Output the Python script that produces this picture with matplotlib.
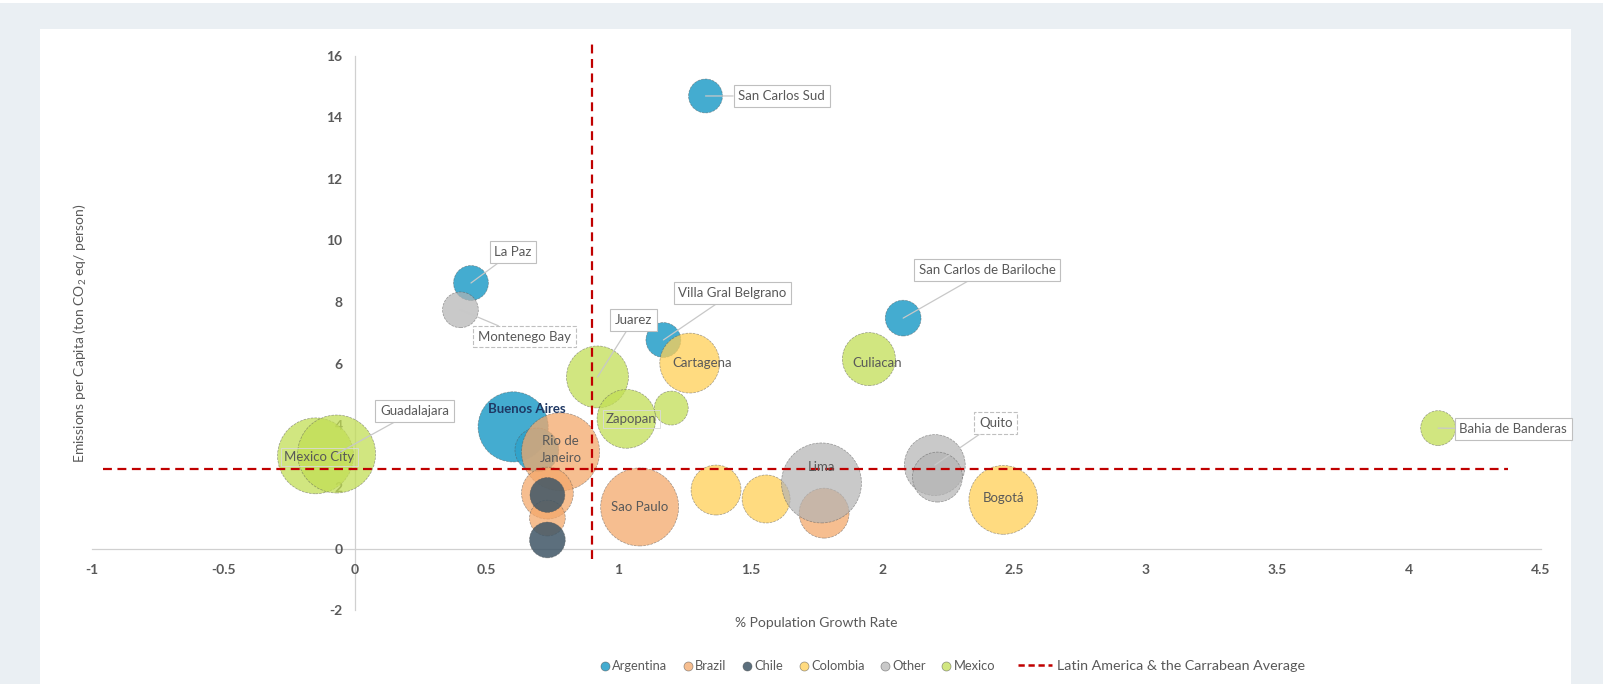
import matplotlib
matplotlib.use("Agg")
import matplotlib.pyplot as plt
from matplotlib.lines import Line2D
from matplotlib.patches import Rectangle
from matplotlib.colors import to_rgba
from matplotlib.ticker import FuncFormatter, MultipleLocator

plt.rcParams['font.family'] = ['Lato', 'DejaVu Sans']

# values
countries = ["Argentina", "Brazil", "Chile", "Colombia", "Other", "Mexico"]

city = ["San Carlos Sud", "La Paz", "Villa Gral Belgrano", "San Carlos de Bariloche", "Buenos Aires", "",
        "Rio de Janeiro", "Sao Paulo", "", "", "",
        "", "",
        "Cartagena", "Bogotá", "", "",
        "Montenego Bay", "Quito", "", "Lima",
        "Mexico City", "Guadalajara", "Juarez", "Zapopan", "", "Culiacan", "Bahia de Banderas"]
country = ["Argentina"] * 6 + ["Brazil"] * 5 + ["Chile"] * 2 + ["Colombia"] * 4 + ["Other"] * 4 + ["Mexico"] * 7
growth = [1.33, 0.44, 1.17, 2.08, 0.60, 0.69,
          0.78, 1.08, 0.73, 0.73, 1.78,
          0.73, 0.73,
          1.27, 2.46, 1.37, 1.56,
          0.40, 2.20, 2.21, 1.77,
          -0.15, -0.07, 0.92, 1.03, 1.20, 1.95, 4.11]
emissions = [14.69, 8.62, 6.77, 7.48, 3.95, 3.20,
             3.14, 1.35, 1.80, 0.99, 1.15,
             1.74, 0.28,
             6.02, 1.58, 1.90, 1.61,
             7.75, 2.71, 2.32, 2.13,
             3.01, 3.07, 5.57, 4.21, 4.56, 6.15, 3.91]
bubble = [18, 19, 19, 20, 77, 30,
          95, 95, 42, 20, 39,
          19, 20,
          56, 74, 39, 36,
          20, 58, 39, 100,
          90, 95, 60, 54, 18, 44, 19]
lac_avg_growth = 0.9
lac_avg_emissions = 2.58

colors = {"Argentina": "#2FA3CB", "Brazil": "#F4A86B", "Chile": "#3F5666",
          "Colombia": "#FFCF55", "Other": "#B3B3B3", "Mexico": "#C2DE55"}
alphas = {"Argentina": 0.9, "Brazil": 0.75, "Chile": 0.85,
          "Colombia": 0.75, "Other": 0.7, "Mexico": 0.75}

# label placement: offset in pixels from bubble centre, and style
label_pos = {
    "San Carlos Sud": (76, 0, "box"),
    "La Paz": (42, 31, "box"),
    "Villa Gral Belgrano": (69, 47, "box"),
    "San Carlos de Bariloche": (84, 48, "box"),
    "Buenos Aires": (14, 18, "bold"),
    "Rio de Janeiro": (0, 2, "plain"),
    "Sao Paulo": (0, 0, "plain"),
    "Cartagena": (12, 0, "plain"),
    "Bogotá": (0, 2, "plain"),
    "Montenego Bay": (64, -27, "dash"),
    "Quito": (61, 42, "dash"),
    "Lima": (0, 16, "plain"),
    "Mexico City": (4, -1, "faint"),
    "Guadalajara": (78, 43, "box"),
    "Juarez": (36, 57, "box"),
    "Zapopan": (5, 0, "faint"),
    "Culiacan": (8, -4, "plain"),
    "Bahia de Banderas": (75, -1, "box"),
}

grey = "#595959"

fig = plt.figure(figsize=(16.14, 6.84), dpi=100, facecolor="white")
fig.patches.append(Rectangle((0, 0), 1603 / 1614, 681 / 684, transform=fig.transFigure,
                             facecolor="#EAEFF3", edgecolor="none", zorder=-10))
fig.patches.append(Rectangle((40 / 1614, 0), 1531 / 1614, 655 / 684, transform=fig.transFigure,
                             facecolor="white", edgecolor="none", zorder=-9))

ax = fig.add_axes([0.0567, 0.1079, 0.8980, 0.8108])
ax.set_facecolor("none")
ax.set_xlim(-1, 4.5)
ax.set_ylim(-2, 16)

# bubbles, series by series
k = 33.18
for c in countries:
    idx = [i for i, cc in enumerate(country) if cc == c]
    xs = [growth[i] for i in idx]
    ys = [emissions[i] for i in idx]
    ss = [bubble[i] * k for i in idx]
    ax.scatter(xs, ys, s=ss, facecolors=[to_rgba(colors[c], alphas[c])] * len(idx),
               edgecolors=[to_rgba("#555555", 0.55)] * len(idx), linewidths=0.5,
               linestyles="--", zorder=2)

# average lines
ax.plot([lac_avg_growth, lac_avg_growth], [-0.35, 16.4], color="#C00000", lw=1.6,
        ls=(0, (4, 2.5)), clip_on=False, zorder=3)
ax.plot([-0.955, 4.375], [lac_avg_emissions, lac_avg_emissions], color="#C00000", lw=1.6,
        ls=(0, (4, 2.5)), clip_on=False, zorder=3)

# labels
for i, name in enumerate(city):
    if name == "":
        continue
    dx, dy, kind = label_pos[name]
    txt = "Rio de\nJaneiro" if name == "Rio de Janeiro" else name
    kw = dict(fontsize=9.5, color=grey, ha="center", va="center", zorder=5,
              textcoords="offset pixels", linespacing=1.5)
    if kind in ("box", "dash"):
        kw["bbox"] = dict(boxstyle="square,pad=0.35", fc="white", ec="#BFBFBF", lw=0.8,
                          ls="-" if kind == "box" else "--")
        kw["arrowprops"] = dict(arrowstyle="-", color="#C8C8C8", lw=0.9, shrinkA=0, shrinkB=0)
    elif kind == "faint":
        kw["bbox"] = dict(boxstyle="square,pad=0.25", fc="none", ec="#DADADA", lw=0.6)
    elif kind == "bold":
        kw["color"] = "#1F3864"
        kw["fontweight"] = "bold"
    ax.annotate(txt, xy=(growth[i], emissions[i]), xytext=(dx, dy), **kw)

# axes crossing at zero
for s in ["top", "right"]:
    ax.spines[s].set_visible(False)
ax.spines["left"].set_position(("data", 0))
ax.spines["bottom"].set_position(("data", 0))
for s in ["left", "bottom"]:
    ax.spines[s].set_color("#D0D0D0")
    ax.spines[s].set_linewidth(0.9)
    ax.spines[s].set_zorder(0.5)
ax.xaxis.set_major_locator(MultipleLocator(0.5))
ax.yaxis.set_major_locator(MultipleLocator(2))
ax.xaxis.set_major_formatter(FuncFormatter(lambda v, p: f"{v:g}"))
ax.yaxis.set_major_formatter(FuncFormatter(lambda v, p: f"{v:g}"))
ax.tick_params(axis="both", length=0, labelsize=10, labelcolor=grey)
ax.tick_params(axis="x", pad=11)
ax.tick_params(axis="y", pad=9)
for lab in ax.get_xticklabels() + ax.get_yticklabels():
    lab.set_fontweight("bold")
ax.set_axisbelow(True)

ax.set_xlabel("% Population Growth Rate", fontsize=10, color=grey)
ax.xaxis.set_label_coords(0.5, -0.012)
ax.set_ylabel(r"Emissions per Capita (ton CO$_\mathregular{2}$ eq/ person)", fontsize=10, color=grey)
ax.yaxis.set_label_coords(-0.002, 0.5)

# legend: bubbles and the average line in two pieces so the line handle can be longer
handles = [Line2D([], [], marker="o", ls="", markersize=6.5,
                  markerfacecolor=to_rgba(colors[c], alphas[c]),
                  markeredgecolor=to_rgba("#4d4d4d", 0.6), markeredgewidth=0.5)
           for c in countries]
fig.legend(handles, countries, loc="center right", bbox_to_anchor=(995 / 1614, 0.026),
           ncol=6, frameon=False, fontsize=9.3, handletextpad=0.1, columnspacing=1.15,
           handlelength=0.9, labelcolor=grey, borderaxespad=0, borderpad=0)
line_h = [Line2D([], [], color="#C00000", lw=1.8, ls=(0, (2.5, 1.5)))]
fig.legend(line_h, ["Latin America & the Carrabean Average"], loc="center left",
           bbox_to_anchor=(1018 / 1614, 0.026), frameon=False, fontsize=10.3,
           handletextpad=0.3, handlelength=2.4, labelcolor=grey, borderaxespad=0, borderpad=0)

fig.savefig("out.png", dpi=100, facecolor=fig.get_facecolor())
